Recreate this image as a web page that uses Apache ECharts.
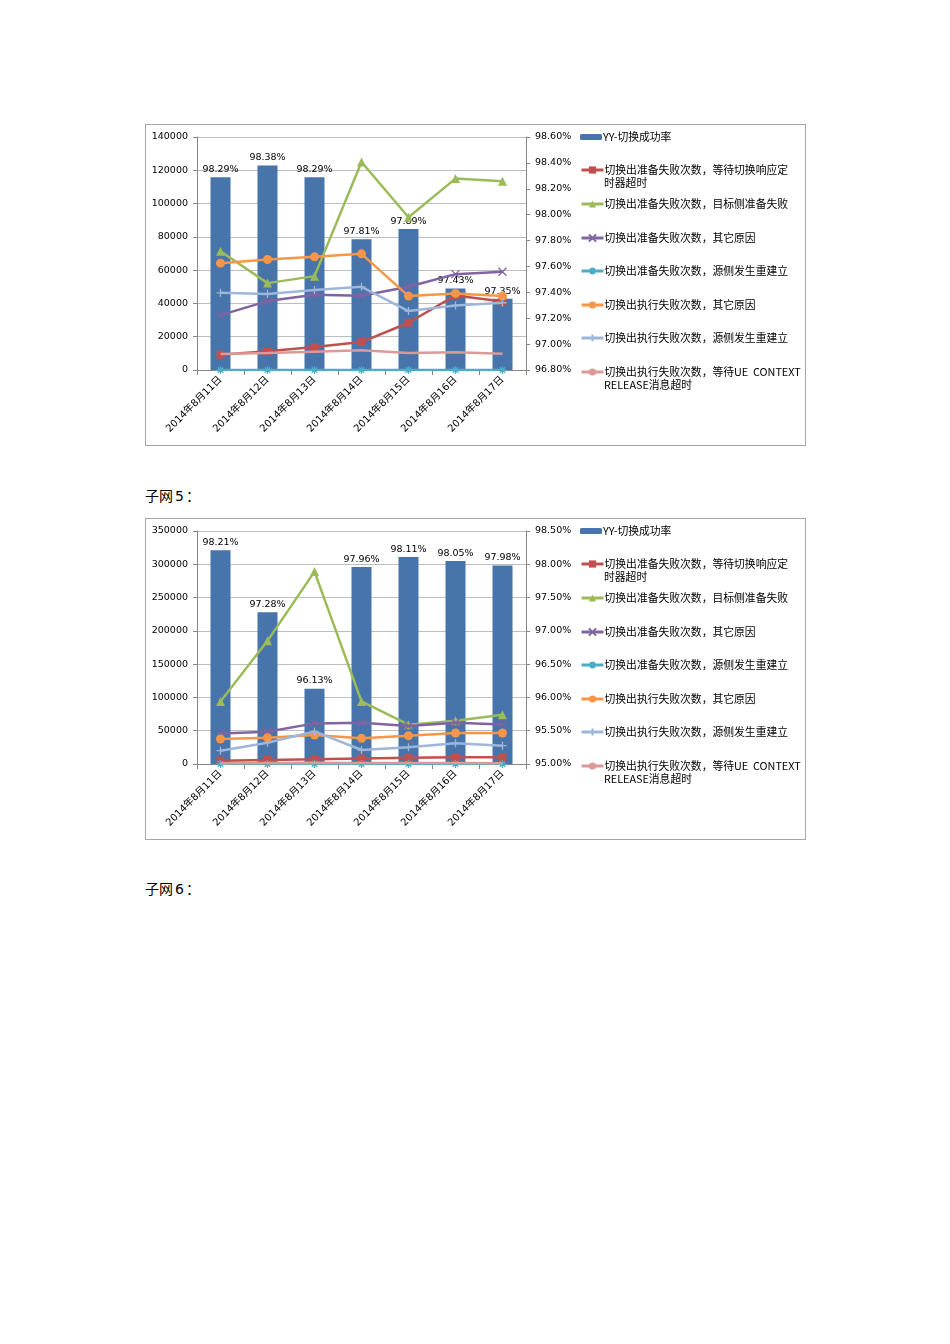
<!DOCTYPE html>
<html>
<head>
<meta charset="utf-8">
<script src="https://cdn.jsdelivr.net/npm/echarts@6/dist/echarts.min.js"></script>
<style>
html,body{margin:0;padding:0;background:#fff;}
body{width:950px;height:1344px;position:relative;overflow:hidden;}
.frame{position:absolute;left:145px;width:661px;height:322px;box-sizing:border-box;border:1px solid #a6a6a6;}
.cap{position:absolute;left:145px;font-family:"Noto Sans CJK SC","Noto Sans",sans-serif;font-size:14px;color:#000;line-height:18px;}
.cap span{font-family:"DejaVu Sans",sans-serif;font-size:14px;margin:0 2px 0 2px;}
</style>
</head>
<body>
<div id="c1" class="frame" style="top:124px;"></div>
<div class="cap" style="top:486px;">子网<span>5</span>：</div>
<div id="c2" class="frame" style="top:518px;"></div>
<div class="cap" style="top:879px;">子网<span>6</span>：</div>
<script>
// ---- data ----
const categories = ['2014年8月11日','2014年8月12日','2014年8月13日','2014年8月14日','2014年8月15日','2014年8月16日','2014年8月17日'];
const seriesNames = [
  'YY-切换成功率',
  '切换出准备失败次数，等待切换响应定时器超时',
  '切换出准备失败次数，目标侧准备失败',
  '切换出准备失败次数，其它原因',
  '切换出准备失败次数，源侧发生重建立',
  '切换出执行失败次数，其它原因',
  '切换出执行失败次数，源侧发生重建立',
  '切换出执行失败次数，等待UE  CONTEXT RELEASE消息超时'
];
const legendLine1 = ['YY-切换成功率','切换出准备失败次数，等待切换响应定','切换出准备失败次数，目标侧准备失败','切换出准备失败次数，其它原因','切换出准备失败次数，源侧发生重建立','切换出执行失败次数，其它原因','切换出执行失败次数，源侧发生重建立','切换出执行失败次数，等待UE  CONTEXT'];
const legendLine2 = ['', '时器超时', '', '', '', '', '', 'RELEASE消息超时'];

// Chart 1 (above 子网5)
const rate1   = [98.29, 98.38, 98.29, 97.81, 97.89, 97.43, 97.35];
const red1    = [9200, 11200, 13800, 16800, 28400, 44800, 41200];
const green1  = [71400, 52200, 56400, 125000, 91800, 115000, 113400];
const purple1 = [33000, 41400, 45200, 44600, 50000, 57600, 59000];
const teal1   = [0, 0, 0, 0, 0, 0, 0];
const orange1 = [64200, 66400, 68000, 69800, 44400, 46000, 44400];
const lblue1  = [46400, 45600, 48000, 50000, 35400, 38800, 40400];
const pink1   = [9600, 10200, 11000, 11800, 10200, 10600, 9800];
const leftTicks1 = {min: 0, max: 140000, interval: 20000};
const rightTicks1 = {min: 96.8, max: 98.6, interval: 0.2};

// Chart 2 (子网5)
const rate2   = [98.21, 97.28, 96.13, 97.96, 98.11, 98.05, 97.98];
const red2    = [5000, 6000, 7000, 8200, 9500, 10000, 10000];
const green2  = [94000, 185000, 289000, 94000, 59000, 65000, 74000];
const purple2 = [46000, 48500, 61000, 62000, 57000, 62000, 59500];
const teal2   = [0, 0, 0, 0, 0, 0, 0];
const orange2 = [37500, 39500, 43500, 38500, 42500, 46500, 46500];
const lblue2  = [20000, 32000, 49000, 21000, 25000, 31000, 27500];
const pink2   = [1200, 1500, 1800, 1500, 1500, 1500, 1200];
const leftTicks2 = {min: 0, max: 350000, interval: 50000};
const rightTicks2 = {min: 95, max: 98.5, interval: 0.5};

// ---- styles ----
const colors = ['#4674AB', '#C0504D', '#9BBB59', '#8064A2', '#4BACC6', '#F79646', '#9DB6DA', '#DB9A98'];
const symbols = [null, 'rect', 'triangle',
  'path://M0,0L10,10M10,0L0,10',
  'path://M0,5L10,5M5,0L5,10M1.5,1.5L8.5,8.5M8.5,1.5L1.5,8.5',
  'circle',
  'path://M0,5L10,5M5,0L5,10',
  'none'];
const numFont = 'DejaVu Sans, Noto Sans CJK SC, sans-serif';
const cjkFont = 'Noto Sans CJK SC, sans-serif';
const legendY = [12, 45, 79, 113, 146, 180, 213, 247];

function build(id, rate, lines, lt, rt) {
  const chart = echarts.init(document.getElementById(id), null, {renderer: 'canvas'});
  const series = [{
    name: seriesNames[0], type: 'bar', yAxisIndex: 1, data: rate, barWidth: 20,
    itemStyle: {color: colors[0]}, z: 1,
    label: {show: true, position: 'top', distance: 3, color: '#000', fontSize: 9.5, fontFamily: numFont,
      formatter: p => p.value.toFixed(2) + '%'}
  }];
  lines.forEach((d, i) => {
    const k = i + 1;
    const isPath = symbols[k].startsWith('path');
    series.push({
      name: seriesNames[k], type: 'line', yAxisIndex: 0, data: d, z: 3 + k,
      symbol: symbols[k], symbolSize: k === 2 ? 9 : (k === 5 ? 9 : 8), showSymbol: symbols[k] !== 'none',
      lineStyle: {color: colors[k], width: 2.5},
      itemStyle: isPath ? {color: colors[k], borderColor: colors[k], borderWidth: 1.3} : {color: colors[k]}
    });
  });
  const legends = seriesNames.map((n, i) => ({
    data: [n], orient: 'vertical', left: 434, top: legendY[i] - 7, padding: 0,
    itemWidth: 22, itemHeight: i === 0 ? 6 : 9, selectedMode: false,
    lineStyle: {width: 3},
    formatter: () => legendLine1[i],
    textStyle: {fontFamily: cjkFont, fontSize: 10.8, color: '#000', lineHeight: 14, padding: [0, 0, 0, -4]}
  }));
  const graphics = [];
  legendLine2.forEach((t, i) => {
    if (t) graphics.push({type: 'text', left: 458, top: legendY[i] + 8,
      style: {text: t, fontFamily: cjkFont, fontSize: 10.8, fill: '#000'}});
  });
  chart.setOption({
    animation: false,
    textStyle: {fontFamily: numFont},
    grid: {left: 51, top: 12, width: 329, height: 233, containLabel: false},
    legend: legends,
    graphic: graphics,
    xAxis: {
      type: 'category', data: categories, boundaryGap: true,
      axisLine: {lineStyle: {color: '#868686', width: 1}},
      axisTick: {show: true, alignWithLabel: false, length: 5, lineStyle: {color: '#868686'}},
      axisLabel: {rotate: 45, margin: 8, fontSize: 10, color: '#000', fontFamily: numFont, interval: 0}
    },
    yAxis: [{
      type: 'value', min: lt.min, max: lt.max, interval: lt.interval, position: 'left',
      axisLine: {show: true, lineStyle: {color: '#868686'}},
      axisTick: {show: true, length: 4, lineStyle: {color: '#868686'}},
      splitLine: {show: true, lineStyle: {color: '#BDBDBD', width: 1.2}},
      axisLabel: {fontSize: 9.5, color: '#000', margin: 9, fontFamily: numFont, formatter: v => String(v)}
    }, {
      type: 'value', min: rt.min, max: rt.max, interval: rt.interval, position: 'right',
      axisLine: {show: true, lineStyle: {color: '#868686'}},
      axisTick: {show: true, length: 4, lineStyle: {color: '#868686'}},
      splitLine: {show: false},
      axisLabel: {fontSize: 9.5, color: '#000', margin: 9, fontFamily: numFont,
        formatter: v => v.toFixed(2) + '%'}
    }],
    series: series
  });
}

build('c1', rate1, [red1, green1, purple1, teal1, orange1, lblue1, pink1], leftTicks1, rightTicks1);
build('c2', rate2, [red2, green2, purple2, teal2, orange2, lblue2, pink2], leftTicks2, rightTicks2);
</script>
</body>
</html>
